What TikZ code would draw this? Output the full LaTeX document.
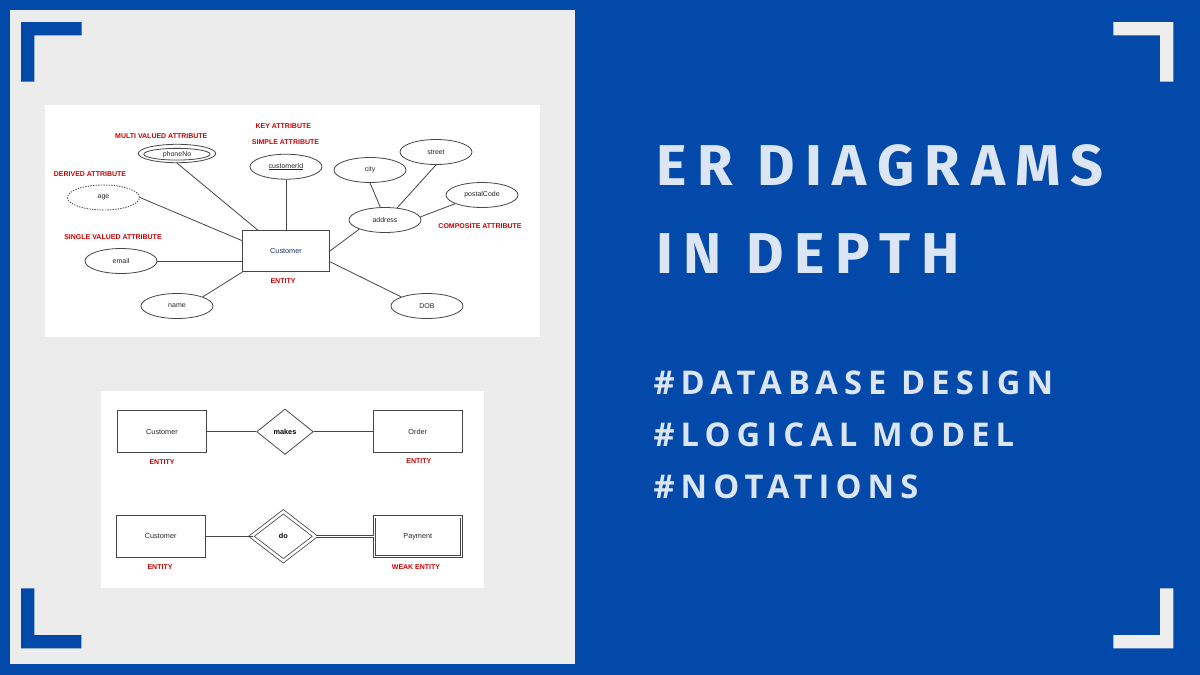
\documentclass[tikz,border=0pt]{standalone}
\usepackage{fontspec}
\setmainfont{Liberation Sans}
\newfontfamily\titlefont{Fira Sans}[LetterSpace=18.6]
\newfontfamily\tagfont{Open Sans}[LetterSpace=18.6]
\usetikzlibrary{shapes.geometric,calc}
\definecolor{bgblue}{RGB}{2,73,170}
\definecolor{panelgray}{RGB}{236,236,236}
\definecolor{brwhite}{RGB}{238,238,238}
\definecolor{titleC}{RGB}{220,229,243}
\definecolor{lineC}{RGB}{70,70,70}
\definecolor{txtC}{RGB}{40,40,40}
\definecolor{custC}{RGB}{30,52,96}
\definecolor{redC}{RGB}{204,0,0}
\tikzset{
  attr/.style={ellipse, draw=lineC, line width=0.8pt, minimum width=72pt, minimum height=25pt,
    inner sep=0pt, font=\fontsize{7}{8}\selectfont, text=txtC},
  lbl/.style={text=redC, font=\fontsize{7}{8}\selectfont\bfseries, inner sep=0pt},
  entbox/.style={rectangle, draw=lineC, line width=0.8pt, inner sep=0pt,
    font=\fontsize{7.3}{8}\selectfont, text=txtC},
  conn/.style={draw=lineC, line width=0.8pt},
  title/.style={anchor=base west, inner sep=0pt, text=titleC,
    font=\titlefont\bfseries\fontsize{57.6}{60}\selectfont},
  hashtag/.style={anchor=base west, inner sep=0pt, text=titleC,
    font=\tagfont\bfseries\fontsize{32.7}{36}\selectfont}
}
\begin{document}
\begin{tikzpicture}[x=1pt,y=-1pt]
\useasboundingbox (0,0) rectangle (1200,675);
% backgrounds
\fill[bgblue] (0,0) rectangle (1200,675);
\fill[panelgray] (10,10) rectangle (575,663.5);
\fill[white] (45,105) rectangle (540,336.7);
\fill[white] (101,391) rectangle (484,588.3);
% corner brackets
\fill[bgblue] (21,22) -- (81.7,22) -- (81.7,35.3) -- (34.3,35.3) -- (34.3,81.7) -- (21,81.7) -- cycle;
\fill[bgblue] (21,648.3) -- (81.3,648.3) -- (81.3,635) -- (34.3,635) -- (34.3,588.3) -- (21,588.3) -- cycle;
\fill[brwhite] (1173.3,22) -- (1113.3,22) -- (1113.3,35.3) -- (1160,35.3) -- (1160,81.7) -- (1173.3,81.7) -- cycle;
\fill[brwhite] (1173.3,648.3) -- (1113.3,648.3) -- (1113.3,635) -- (1160,635) -- (1160,588.3) -- (1173.3,588.3) -- cycle;

% ---------- top diagram ----------
\node[entbox, minimum width=86.6pt, minimum height=41pt, text=custC] (cust) at (286,251.2) {Customer};
\node[lbl] (lent) at (283,281) {ENTITY};

\node[attr, minimum width=77.4pt, minimum height=18.4pt] (phone) at (177,153.5) {};
\node[attr, minimum width=66.3pt, minimum height=11.7pt] (phonein) at (177,154.2) {phoneNo};
\node[lbl] (lmulti) at (161.3,136) {MULTI VALUED ATTRIBUTE};

\node[lbl] (lkey) at (283.3,126) {KEY ATTRIBUTE};
\node[lbl] (lsimple) at (285.5,141.7) {SIMPLE ATTRIBUTE};
\node[attr] (cid) at (286,166.7) {\underline{customerId}};

\node[lbl] (lderived) at (90,174) {DERIVED ATTRIBUTE};
\node[attr, dash pattern=on 1.4pt off 1.2pt] (age) at (103.5,197.5) {age};

\node[lbl] (lsingle) at (113,237.3) {SINGLE VALUED ATTRIBUTE};
\node[attr] (email) at (121,261) {email};
\node[attr] (name) at (177,306) {name};

\node[attr] (city) at (370,170) {city};
\node[attr] (street) at (436,152) {street};
\node[attr] (postal) at (482,195) {postalCode};
\node[attr] (addr) at (385,220) {address};
\node[lbl] (lcomp) at (480,225.7) {COMPOSITE ATTRIBUTE};
\node[attr] (dob) at (427,306) {DOB};

\draw[conn] (phone.south) -- ($(cust.north west)!0.18!(cust.north east)$);
\draw[conn] (cid.south) -- (cust.north);
\draw[conn] (age.east) -- ($(cust.north west)!0.25!(cust.south west)$);
\draw[conn] (email.east) -- (email.east -| cust.west);
\draw[conn] (name.north east) -- (cust.south west);
\draw[conn] (cust.east) -- (addr.south west);
\draw[conn] ($(cust.north east)!0.75!(cust.south east)$) -- (dob.north west);
\draw[conn] (city.south) -- (addr.110);
\draw[conn] (street.south) -- (addr.45);
\draw[conn] (postal.198) -- (addr.5);

% ---------- bottom diagram ----------
\node[entbox, minimum width=89.4pt, minimum height=42pt] (cust1) at (162,431.7) {Customer};
\node[lbl] (le1) at (162,462) {ENTITY};
\node[diamond, draw=lineC, line width=0.8pt, inner sep=0pt, minimum width=56.6pt, minimum height=45.4pt,
  font=\fontsize{7.3}{8}\selectfont\bfseries, text=black] (makes) at (285,431.7) {makes};
\node[entbox, minimum width=89pt, minimum height=42pt] (order) at (417.8,431.7) {Order};
\node[lbl] (le2) at (418.8,461) {ENTITY};
\draw[conn] (cust1) -- (makes);
\draw[conn] (makes) -- (order);

\node[entbox, minimum width=89.3pt, minimum height=42pt] (cust2) at (160.7,536.3) {Customer};
\node[lbl] (le3) at (160,566.7) {ENTITY};
\node[diamond, draw=lineC, line width=0.8pt, double, double distance=2.6pt, inner sep=0pt,
  minimum width=64pt, minimum height=49.4pt,
  font=\fontsize{7.3}{8}\selectfont\bfseries, text=black] (do) at (283.3,536.3) {do};
\node[entbox, double, double distance=1.4pt, minimum width=86.8pt, minimum height=39.8pt] (pay) at (417.8,536.7) {Payment};
\node[lbl] (le4) at (416,566.7) {WEAK ENTITY};
\draw[conn, shorten >=-2pt] (cust2) -- (do);
\draw[conn, double, double distance=1.4pt] (do.east) -- (pay.west |- do.east);

% ---------- right text ----------
\node[title] (t1) at (656,185.7) {ER DIAGRAMS};
\node[title] (t2) at (656,273.3) {IN DEPTH};
\node[hashtag] (h1) at (653.3,394.3) {\#DATABASE DESIGN};
\node[hashtag] (h2) at (653.3,446.8) {\#LOGICAL MODEL};
\node[hashtag] (h3) at (653.3,498.3) {\#NOTATIONS};
\end{tikzpicture}
\end{document}
